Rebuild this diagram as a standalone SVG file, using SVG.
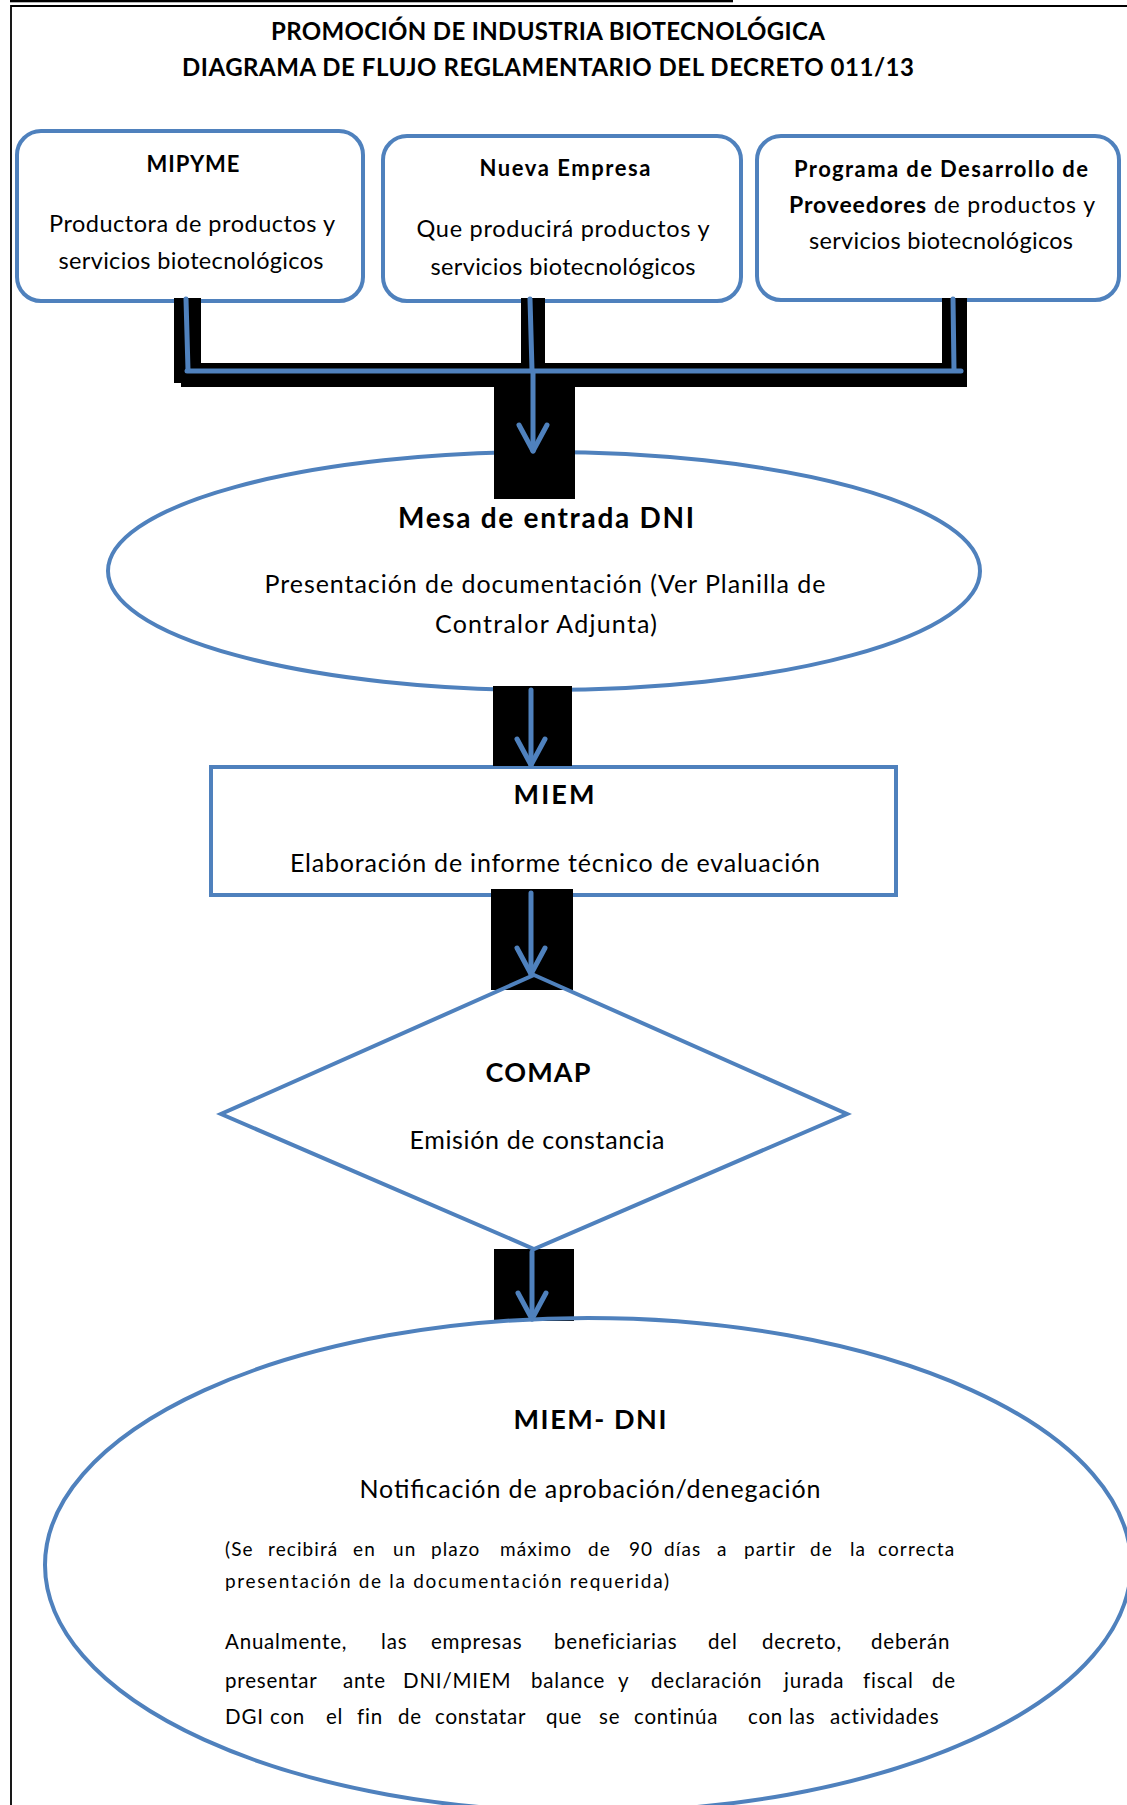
<svg xmlns="http://www.w3.org/2000/svg" width="1127" height="1805" viewBox="0 0 1127 1805">
<style>
.t{font-family:Lato,"Open Sans","Liberation Sans",sans-serif;fill:#000;}
.b{font-weight:bold;}
.c{text-anchor:middle;}
.node{fill:#fff;stroke:#4F81BD;stroke-width:4;}
.bar{fill:#000;}
.bl{fill:none;stroke:#4F81BD;stroke-width:5;stroke-linecap:round;}
.p{font-size:19px;letter-spacing:1.1px;}
.q{font-size:20.5px;letter-spacing:0.8px;}
</style>
<defs>
<marker id="chev" viewBox="-32 -20 40 40" refX="0" refY="0" markerWidth="40" markerHeight="40" markerUnits="userSpaceOnUse" orient="auto">
<path d="M-26,-14 L0,0 L-26,14" fill="none" stroke="#4F81BD" stroke-width="5" stroke-linecap="round" stroke-linejoin="round"/>
</marker>
</defs>
<rect width="1127" height="1805" fill="#fff"/>
<g id="frame">
<rect x="10" y="0" width="723" height="2.3" fill="#000"/>
<path d="M11,1805 V6 H1127" fill="none" stroke="#000" stroke-width="1.8"/>
</g>
<g id="title">
<text class="t b c" x="548" y="40" font-size="24" textLength="554" lengthAdjust="spacing">PROMOCIÓN DE INDUSTRIA BIOTECNOLÓGICA</text>
<text class="t b c" x="548" y="76" font-size="24" textLength="732" lengthAdjust="spacing">DIAGRAMA DE FLUJO REGLAMENTARIO DEL DECRETO 011/13</text>
</g>
<g id="mipyme">
<rect class="node" x="17" y="131" width="346" height="170" rx="24"/>
<text class="t b c" x="193" y="172" font-size="22" textLength="93" lengthAdjust="spacing">MIPYME</text>
<text class="t c" x="192" y="232" font-size="23.5" textLength="286" lengthAdjust="spacing">Productora de productos y</text>
<text class="t c" x="191" y="269" font-size="23.5" textLength="265" lengthAdjust="spacing">servicios biotecnológicos</text>
</g>
<g id="nueva">
<rect class="node" x="383" y="136" width="358" height="165" rx="24"/>
<text class="t b c" x="565" y="176" font-size="22" textLength="171" lengthAdjust="spacing">Nueva Empresa</text>
<text class="t c" x="563" y="237" font-size="23.5" textLength="293" lengthAdjust="spacing">Que  producirá productos y</text>
<text class="t c" x="563" y="275" font-size="23.5" textLength="265" lengthAdjust="spacing">servicios biotecnológicos</text>
</g>
<g id="programa">
<rect class="node" x="757" y="136" width="362" height="164" rx="24"/>
<text class="t b c" x="941" y="177" font-size="22" textLength="294" lengthAdjust="spacing">Programa de Desarrollo de</text>
<text class="t c" x="942" y="213" font-size="23" textLength="306" lengthAdjust="spacing"><tspan font-weight="bold">Proveedores</tspan> de productos y</text>
<text class="t c" x="941" y="249" font-size="23.5" textLength="264" lengthAdjust="spacing">servicios biotecnológicos</text>
</g>
<g id="mesa">
<ellipse class="node" cx="544" cy="571" rx="436" ry="119"/>
<text class="t b c" x="546" y="528" font-size="28" textLength="296" lengthAdjust="spacing">Mesa de entrada DNI</text>
<text class="t c" x="545" y="593" font-size="25" textLength="561" lengthAdjust="spacing">Presentación de documentación (Ver Planilla de</text>
<text class="t c" x="546" y="633" font-size="25" textLength="222" lengthAdjust="spacing">Contralor Adjunta)</text>
</g>
<g id="miem">
<rect class="node" x="211" y="767" width="685" height="128"/>
<text class="t b c" x="554" y="804" font-size="27" textLength="81" lengthAdjust="spacing">MIEM</text>
<text class="t c" x="555" y="872" font-size="25" textLength="530" lengthAdjust="spacing">Elaboración de informe técnico de evaluación</text>
</g>
<g id="connectors">
<rect class="bar" x="174" y="298" width="27" height="85"/>
<rect class="bar" x="521" y="298" width="24" height="70"/>
<rect class="bar" x="942" y="298" width="25" height="89"/>
<rect class="bar" x="181" y="363" width="786" height="24"/>
<rect class="bar" x="494" y="368" width="81" height="131"/>
<rect class="bar" x="493" y="686" width="79" height="80"/>
<rect class="bar" x="491" y="889" width="82" height="101"/>
<rect class="bar" x="494" y="1249" width="80" height="72"/>
<path class="bl" d="M186,299 L188,370"/>
<path class="bl" d="M530,299 L532,370"/>
<path class="bl" d="M953,299 L954,370"/>
<path class="bl" d="M187,371 H961" stroke-width="6"/>
<path class="bl" d="M533,373 V451" marker-end="url(#chev)"/>
<path class="bl" d="M531,690 V765" marker-end="url(#chev)"/>
<path class="bl" d="M531,893 V974" marker-end="url(#chev)"/>
<path class="bl" d="M532,1252 V1319" marker-end="url(#chev)"/>
</g>
<g id="comap">
<polygon class="node" points="534,975 847,1114 534,1249 221,1114" style="fill:none"/>
<text class="t b c" x="538" y="1082" font-size="27" textLength="105" lengthAdjust="spacing">COMAP</text>
<text class="t c" x="537" y="1149" font-size="25" textLength="255" lengthAdjust="spacing">Emisión de constancia</text>
</g>
<g id="miem-dni">
<ellipse class="node" cx="588" cy="1565" rx="543" ry="247" style="fill:none"/>
<text class="t b c" x="590" y="1429" font-size="27" textLength="153" lengthAdjust="spacing">MIEM- DNI</text>
<text class="t c" x="590" y="1498" font-size="25" textLength="461" lengthAdjust="spacing">Notificación de aprobación/denegación</text>
<text class="t p" y="1556"><tspan x="225">(Se</tspan><tspan x="268">recibirá</tspan><tspan x="353">en</tspan><tspan x="393">un</tspan><tspan x="431">plazo</tspan><tspan x="500">máximo</tspan><tspan x="588">de</tspan><tspan x="629">90</tspan><tspan x="664">días</tspan><tspan x="717">a</tspan><tspan x="744">partir</tspan><tspan x="810">de</tspan><tspan x="850">la</tspan><tspan x="878">correcta</tspan></text>
<text class="t" x="225" y="1588" font-size="19" textLength="444" lengthAdjust="spacing">presentación de la documentación requerida)</text>
<text class="t q" y="1649"><tspan x="225">Anualmente,</tspan><tspan x="381">las</tspan><tspan x="431">empresas</tspan><tspan x="554">beneficiarias</tspan><tspan x="708">del</tspan><tspan x="762">decreto,</tspan><tspan x="871">deberán</tspan></text>
<text class="t q" y="1688"><tspan x="225">presentar</tspan><tspan x="343">ante</tspan><tspan x="403">DNI/MIEM</tspan><tspan x="531">balance</tspan><tspan x="618">y</tspan><tspan x="651">declaración</tspan><tspan x="784">jurada</tspan><tspan x="863">fiscal</tspan><tspan x="932">de</tspan></text>
<text class="t q" y="1724"><tspan x="225">DGI</tspan><tspan x="270">con</tspan><tspan x="326">el</tspan><tspan x="357">fin</tspan><tspan x="398">de</tspan><tspan x="435">constatar</tspan><tspan x="546">que</tspan><tspan x="599">se</tspan><tspan x="634">continúa</tspan><tspan x="748">con</tspan><tspan x="789">las</tspan><tspan x="830">actividades</tspan></text>
</g>
</svg>
